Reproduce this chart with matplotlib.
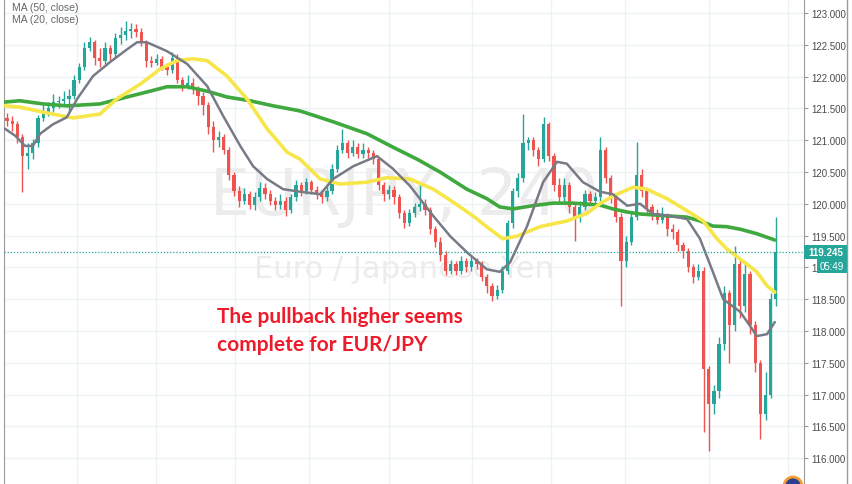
import matplotlib
matplotlib.use("Agg")
import matplotlib.pyplot as plt
from matplotlib.patches import Rectangle, Circle
from matplotlib.lines import Line2D
from matplotlib.transforms import blended_transform_factory

# ---------------- data (EUR/JPY, 240) ----------------
opens = [121.35,121.30,121.25,121.05,120.75,120.80,120.95,121.35,121.45,121.50,
         121.60,121.62,121.65,121.70,121.95,122.15,122.45,122.55,122.30,122.25,
         122.45,122.35,122.60,122.65,122.72,122.75,122.70,122.55,122.25,122.22,
         122.28,122.15,122.10,122.30,121.95,121.85,121.90,121.80,121.70,121.55,
         121.20,121.00,121.05,120.85,120.45,120.20,120.05,120.15,119.98,120.10,
         120.25,120.15,120.05,119.98,120.05,119.90,120.10,120.30,120.20,120.35,
         120.22,120.15,120.10,120.20,120.55,120.85,120.95,120.80,120.90,120.78,
         120.85,120.80,120.70,120.30,120.15,120.22,120.10,119.85,119.70,119.85,
         119.95,120.00,119.90,119.60,119.40,119.20,118.95,119.05,118.95,119.10,
         119.00,119.10,119.05,118.85,118.70,118.55,118.65,118.95,119.70,120.20,
         120.40,120.95,121.00,120.85,120.70,121.25,120.75,120.30,120.10,120.30,
         119.95,119.80,119.95,120.15,120.05,120.10,120.85,120.40,120.10,119.80,
         119.10,119.40,119.80,120.45,120.20,119.95,119.85,119.75,119.80,119.60,
         119.55,119.35,119.25,119.00,118.85,118.95,117.40,116.85,117.05,117.80,
         118.60,118.10,119.05,118.40,118.90,118.10,117.50,116.70,117.00,118.50]
closes = [121.30,121.25,121.05,120.75,120.80,120.95,121.35,121.45,121.50,121.60,
          121.62,121.65,121.70,121.95,122.15,122.45,122.55,122.30,122.25,122.45,
          122.35,122.60,122.65,122.72,122.75,122.70,122.55,122.25,122.22,122.28,
          122.15,122.10,122.30,121.95,121.85,121.90,121.80,121.70,121.55,121.20,
          121.00,121.05,120.85,120.45,120.20,120.05,120.15,119.98,120.10,120.25,
          120.15,120.05,119.98,120.05,119.90,120.10,120.30,120.20,120.35,120.22,
          120.15,120.10,120.20,120.55,120.85,120.95,120.80,120.90,120.78,120.85,
          120.80,120.70,120.30,120.15,120.22,120.10,119.85,119.70,119.85,119.95,
          120.00,119.90,119.60,119.40,119.20,118.95,119.05,118.95,119.10,119.00,
          119.10,119.05,118.85,118.70,118.55,118.65,118.95,119.70,120.20,120.40,
          120.95,121.00,120.85,120.70,121.25,120.75,120.30,120.10,120.30,119.95,
          119.80,119.95,120.15,120.05,120.10,120.85,120.40,120.10,119.80,119.10,
          119.40,119.80,120.45,120.20,119.95,119.85,119.75,119.80,119.60,119.55,
          119.35,119.25,119.00,118.85,118.95,117.40,116.85,117.05,117.80,118.60,
          118.10,119.05,118.40,118.90,118.10,117.50,116.70,117.00,118.50,119.245]
highs = [121.42,121.38,121.30,121.10,120.95,121.02,121.40,121.55,121.60,121.72,
         121.70,121.78,121.80,122.02,122.22,122.55,122.62,122.58,122.45,122.55,
         122.50,122.68,122.78,122.87,122.85,122.83,122.76,122.58,122.32,122.35,
         122.32,122.22,122.38,122.35,122.00,122.02,121.98,121.85,121.75,121.60,
         121.30,121.15,121.10,120.90,120.50,120.28,120.25,120.20,120.18,120.35,
         120.32,120.22,120.10,120.15,120.10,120.15,120.38,120.35,120.40,120.38,
         120.28,120.20,120.28,120.62,120.92,121.18,121.00,121.00,120.95,120.95,
         120.90,120.85,120.72,120.35,120.30,120.28,120.15,119.90,119.92,120.02,
         120.30,120.08,119.95,119.65,119.48,119.25,119.12,119.10,119.18,119.15,
         119.20,119.15,119.10,118.90,118.75,118.72,119.02,119.75,120.25,120.48,
         121.41,121.05,121.05,120.90,121.36,121.28,120.80,120.40,120.40,120.35,
         120.00,120.05,120.22,120.20,120.18,121.05,120.90,120.45,120.15,119.85,
         119.50,119.88,120.97,120.55,120.25,120.00,119.92,119.95,119.85,119.68,
         119.60,119.40,119.30,119.05,119.05,119.00,117.45,117.15,117.90,118.70,
         118.65,119.34,119.15,119.10,118.95,118.15,117.55,117.35,118.60,119.79]
lows = [121.22,121.15,120.95,120.19,120.55,120.70,120.90,121.30,121.38,121.45,
        121.50,121.55,121.45,121.65,121.90,122.10,122.40,122.18,122.15,122.20,
        122.25,122.30,122.52,122.58,122.60,122.62,122.48,122.15,122.15,122.18,
        122.10,122.02,122.05,121.90,121.78,121.80,121.72,121.55,121.40,121.10,
        120.82,120.90,120.78,120.38,120.12,119.95,120.00,119.92,119.90,120.05,
        120.08,119.98,119.90,119.92,119.81,119.85,120.05,120.12,120.15,120.15,
        120.08,120.02,120.05,120.15,120.50,120.80,120.72,120.75,120.72,120.72,
        120.72,120.62,120.22,120.05,120.08,120.00,119.78,119.62,119.65,119.80,
        119.88,119.82,119.52,119.32,119.10,118.88,118.90,118.88,118.90,118.92,
        118.95,118.98,118.78,118.60,118.47,118.50,118.60,118.90,119.62,120.10,
        120.35,120.85,120.75,120.60,120.65,120.68,120.20,120.00,120.02,119.85,
        119.42,119.72,119.90,119.98,120.00,120.05,120.32,120.02,119.72,118.40,
        119.00,119.35,119.75,120.10,119.85,119.75,119.68,119.70,119.50,119.45,
        119.25,119.15,118.92,118.75,118.80,116.41,116.11,116.70,116.95,117.70,
        117.50,118.00,118.20,118.30,117.95,117.35,116.30,116.60,116.95,118.40]

# moving averages, read at sample bar positions
ma20_x = [-0.4,1.6,3.5,5.0,6.4,8.9,11.6,13.6,16.7,20.0,23.3,25.2,27.1,31.0,34.9,38.8,
          41.9,45.2,47.7,50.4,53.5,56.8,60.7,63.2,67.1,71.7,74.8,78.1,82.6,85.9,89.1,
          93.0,95.5,97.5,100.8,103.9,106.6,108.5,111.6,114.9,117.4,120.2,122.7,125.2,
          128.5,131.8,134.3,136.8,138.8,142.1,144.0,145.3,147.3,148.8]
ma20_y = [121.18,121.07,120.91,120.91,121.10,121.25,121.36,121.65,122.01,122.23,122.43,
          122.54,122.54,122.40,122.20,121.85,121.38,120.91,120.59,120.39,120.23,120.19,
          120.15,120.39,120.59,120.75,120.55,120.28,119.81,119.49,119.24,118.97,118.93,
          119.08,119.65,120.34,120.66,120.63,120.34,120.19,120.15,119.97,120.00,119.84,
          119.81,119.76,119.45,118.93,118.50,118.30,118.08,117.92,117.95,118.14]
ma50_x = [-0.4,2.5,7.0,12.8,18.0,21.3,25.8,29.7,32.9,36.0,38.8,42.6,46.5,50.4,54.3,56.8,
          60.7,64.5,69.8,73.6,78.1,82.6,86.4,90.3,93.6,96.1,98.8,103.3,108.5,112.4,114.9,
          117.4,121.3,124.0,127.9,131.8,134.9,137.6,139.5,142.1,145.3,147.3,148.8]
ma50_y = [121.54,121.52,121.44,121.35,121.41,121.65,121.88,122.12,122.25,122.28,122.25,
          122.01,121.65,121.18,120.81,120.70,120.39,120.31,120.34,120.41,120.39,120.23,
          120.03,119.81,119.60,119.45,119.49,119.64,119.73,119.85,120.00,120.12,120.26,
          120.23,120.08,119.89,119.73,119.45,119.29,119.13,118.93,118.71,118.61]
ma100_x = [-0.4,2.5,7.0,11.6,18.0,23.3,27.7,31.0,34.9,38.8,42.6,47.1,51.6,56.8,63.2,69.8,
           74.8,79.5,83.9,89.1,93.0,95.5,98.1,101.9,105.8,109.7,114.9,117.4,120.2,122.7,
           127.9,131.8,134.3,136.8,139.5,142.1,145.3,148.8]
ma100_y = [121.60,121.62,121.57,121.54,121.57,121.68,121.77,121.84,121.84,121.77,121.68,
           121.62,121.54,121.46,121.29,121.10,120.89,120.70,120.50,120.23,120.08,119.95,
           119.92,119.97,120.01,120.01,119.98,119.92,119.87,119.84,119.81,119.79,119.73,
           119.65,119.64,119.60,119.53,119.43]

price_ticks = [116.0,116.5,117.0,117.5,118.0,118.5,119.0,119.5,120.0,120.5,
               121.0,121.5,122.0,122.5,123.0]
week_lines = [13.6,28.9,44.2,58.5,74.0,90.1,105.4,119.8,136.0,151.4]
last_price = 119.245
countdown = "05:49"
legend_labels = ["MA (50, close)", "MA (20, close)"]
symbol_text = "EURJPY, 240"
name_text = "Euro / Japanese Yen"
note_text = "The pullback higher seems\ncomplete for EUR/JPY"

# ---------------- styles ----------------
UP = "#26a69a"
DOWN = "#ef5350"
W, H = 852, 485

fig = plt.figure(figsize=(W / 100, H / 100), dpi=100)
fig.patch.set_facecolor("white")
ax = fig.add_axes([4 / W, 0, 800 / W, 1])
ax.set_facecolor("white")
ax.set_xlim(-0.58, 154.46)
ax.set_ylim(115.594, 123.22)

# grid
for p in price_ticks:
    ax.axhline(p, color="#edf2f5", lw=1, zorder=0)
for wx in week_lines:
    ax.axvline(wx, color="#edf2f5", lw=1, zorder=0)

# watermark
ax.text(0.5, (485 - 197) / 485, symbol_text, transform=ax.transAxes, ha="center",
        va="center", fontsize=46, color="#ececec", family=["DejaVu Sans"], zorder=0.5)
ax.text(0.5, (485 - 270) / 485, name_text, transform=ax.transAxes, ha="center",
        va="center", fontsize=22, color="#ececec", family=["DejaVu Sans"], zorder=0.5)

# candles
for i, (o, h, l, c) in enumerate(zip(opens, highs, lows, closes)):
    col = UP if c >= o else DOWN
    ax.vlines(i, l, h, color=col, lw=1, zorder=2)
    body = max(abs(c - o), 0.02)
    ax.bar(i, body, bottom=min(o, c), width=0.62, color=col, edgecolor=col,
           lw=0, zorder=2)

# moving averages
ax.plot(ma100_x, ma100_y, color="#3fa83f", lw=2.6, zorder=3, solid_capstyle="round",
        solid_joinstyle="round")
ax.plot(ma50_x, ma50_y, color="#f7e64a", lw=2.6, zorder=3, solid_capstyle="round",
        solid_joinstyle="round")
ax.plot(ma20_x, ma20_y, color="#787b86", lw=1.8, zorder=3, solid_capstyle="round",
        solid_joinstyle="round")

# last price dotted line
ax.axhline(last_price, color=UP, lw=0.9, ls=(0, (1, 1.5)), zorder=4)

# axes / spines
for s in ["top", "bottom"]:
    ax.spines[s].set_visible(False)
ax.spines["left"].set_color("#9a9a9a")
ax.spines["right"].set_color("#9a9a9a")
ax.set_xticks([])
ax.yaxis.tick_right()
ax.set_yticks(price_ticks)
# the 119.000 label is mostly hidden behind the countdown box; only its "1" shows
ax.set_yticklabels(["1" if p == 119.0 else f"{p:.3f}" for p in price_ticks])
ax.tick_params(axis="y", length=3, width=0.8, color="#9a9a9a", pad=2,
               labelsize=7, labelcolor="#4a4a4a")
for t in ax.get_yticklabels():
    t.set_family(["Liberation Sans", "DejaVu Sans"])

# right border
fig.add_artist(Line2D([847 / W, 847 / W], [0, 1], transform=fig.transFigure,
                      color="#9a9a9a", lw=1))

# price label boxes
bt = blended_transform_factory(fig.transFigure, ax.transData)
ph = 14 / 63.6
fig.add_artist(Rectangle((804 / W, last_price - ph / 2), 43 / W, ph, transform=bt,
                         facecolor=UP, edgecolor="none", zorder=5))
fig.add_artist(Rectangle((817 / W, last_price - ph * 1.5), 30 / W, ph, transform=bt,
                         facecolor=UP, edgecolor="none", zorder=5))
fig.text(825.5 / W, last_price, f"{last_price:.3f}", transform=bt, ha="center",
         va="center", color="white", fontsize=7, weight="bold",
         family=["Liberation Sans", "DejaVu Sans"], zorder=6)
fig.text(832 / W, last_price - ph, countdown, transform=bt, ha="center",
         va="center", color="white", fontsize=7,
         family=["Liberation Sans", "DejaVu Sans"], zorder=6)

# legend
fig.text(12 / W, 1 - 3 / H, legend_labels[0], ha="left", va="top", fontsize=7.5,
         color="#666666", family=["Liberation Sans", "DejaVu Sans"])
fig.text(12 / W, 1 - 15 / H, legend_labels[1], ha="left", va="top", fontsize=7.5,
         color="#666666", family=["Liberation Sans", "DejaVu Sans"])

# annotation
fig.text(217 / W, 1 - 307 / H, note_text, ha="left", va="top", fontsize=15,
         weight="bold", color="#ee1c2a", linespacing=1.5,
         family=["Lato", "DejaVu Sans"])

# small logo peeking at bottom right
logo = Circle((793, -2), 9, transform=None, facecolor="#2b3f8f",
              edgecolor="#f39c33", lw=2, zorder=7)
fig.add_artist(logo)

fig.savefig("out.png", dpi=100)
